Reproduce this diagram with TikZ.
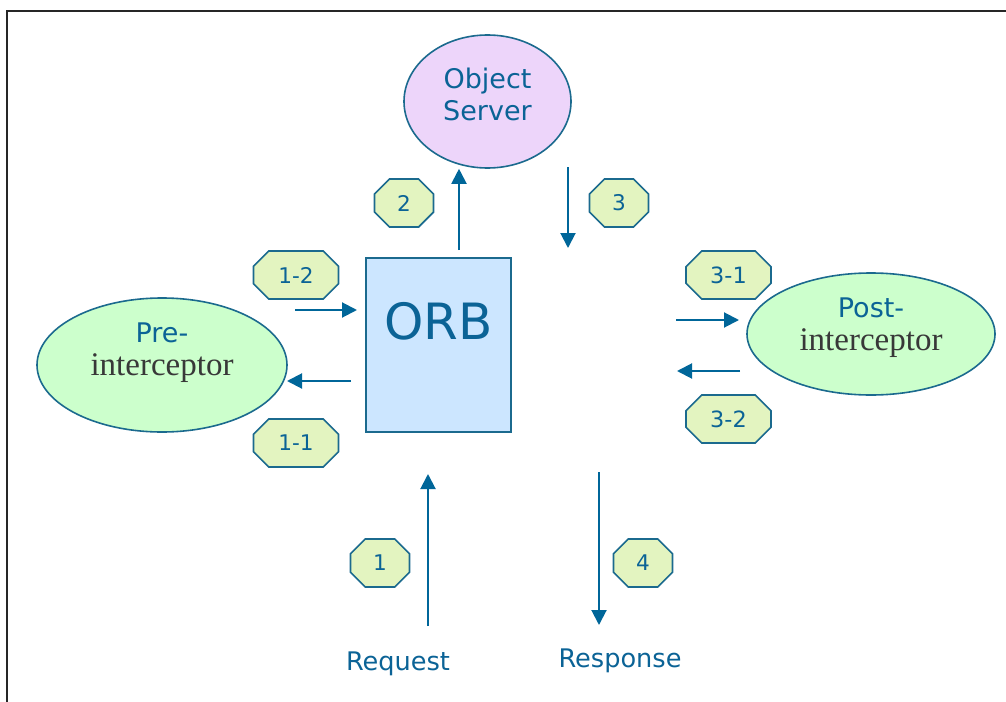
\documentclass[tikz,border=0pt]{standalone}
\usepackage{fontspec}
\setmainfont{DejaVu Sans}
\newfontfamily\interfont{Liberation Serif}
\usepackage{xcolor}
\usepackage{tikz}
\usetikzlibrary{
    positioning,
    arrows.meta,
    shapes.geometric,
    shapes.misc
}
\definecolor{flowblue}{HTML}{006699}
\definecolor{edgeblue}{HTML}{1B6A8E}
\definecolor{textblue}{HTML}{0B6396}
\definecolor{tagfill}{HTML}{E3F4C0}
\definecolor{orbfill}{HTML}{CCE6FF}
\definecolor{interfill}{HTML}{CCFFCC}
\definecolor{serverfill}{HTML}{EDD5FA}
\tikzset{
    step_tag/.style={
        chamfered rectangle,
        chamfered rectangle xsep=6.5pt,
        draw=edgeblue, line width=0.8pt,
        fill=tagfill,
        minimum width=29.5pt, minimum height=24pt,
        inner sep=0pt,
        text=textblue,
        font=\fontsize{10.8}{12}\selectfont
    },
    wide_tag/.style={
        step_tag, minimum width=42.5pt
    },
    flow_arrow/.style={
        -{Triangle[length=7.5pt, width=7.5pt]}, line width=1pt, draw=flowblue
    },
    frame_line/.style={
        draw=black!85, line width=1.2pt
    }
}

\begin{document}
\begin{tikzpicture}[
    x=0.5pt, y=-0.5pt,
    orb_box/.style={rectangle, draw=edgeblue, line width=0.7pt, fill=orbfill, minimum width=72.5pt, minimum height=87pt, inner sep=0pt},
    orb_text/.style={text=textblue, font=\fontsize{25}{30}\selectfont},
    server_node/.style={ellipse, draw=edgeblue, line width=0.8pt, fill=serverfill, minimum width=83.5pt, minimum height=66.5pt, inner sep=0pt},
    inter_node/.style={ellipse, draw=edgeblue, line width=0.8pt, fill=interfill, inner sep=0pt},
    node_text/.style={text=textblue, align=center, font=\fontsize{13.5}{16}\selectfont},
    inter_text/.style={text=textblue, align=center, font=\fontsize{13.5}{14}\selectfont},
    io_label/.style={text=textblue, font=\fontsize{12.8}{15}\selectfont}
]
    \useasboundingbox (0,0) rectangle (1006,701);

    % --- FRAME ---
    \draw[frame_line] (7,712) -- (7,11) -- (1016,11);

    % --- MAIN BLOCKS ---
    \node[orb_box, label={[orb_text, yshift=12pt]center:ORB}] (orb) at (438.5,345) {};
    \node[server_node, label={[node_text, yshift=3.75pt]center:{Object\\Server}}] (server) at (487.5,101.5) {};
    \node[inter_node, minimum width=125pt, minimum height=67pt,
          label={[inter_text, yshift=6pt]center:{Pre-\\[2.5pt]{\interfont\fontsize{16.5}{14}\selectfont\color{black!78}interceptor}}}] (pre) at (162,365) {};
    \node[inter_node, minimum width=124pt, minimum height=61pt,
          label={[inter_text, yshift=3.25pt]center:{Post-\\[2.5pt]{\interfont\fontsize{16.5}{14}\selectfont\color{black!78}interceptor}}}] (post) at (871,334) {};

    % --- REQUEST / RESPONSE ---
    \node[io_label, anchor=base] (request) at (398,670) {Request};
    \node[io_label, anchor=base] (response) at (620,667) {Response};

    % --- STEP TAGS ---
    \node[step_tag] (tag1) at (380,563) {1};
    \node[wide_tag] (tag11) at (296,443) {1-1};
    \node[wide_tag] (tag12) at (296,275) {1-2};
    \node[step_tag] (tag2) at (404,203) {2};
    \node[step_tag] (tag3) at (619,203) {3};
    \node[wide_tag, font=\fontsize{11.2}{12}\selectfont] (tag31) at (728.5,275) {3-1};
    \node[wide_tag, font=\fontsize{11.2}{12}\selectfont] (tag32) at (728.5,419) {3-2};
    \node[step_tag] (tag4) at (643,563) {4};

    % --- ARROW ENDS ---
    \coordinate (req_from) at (428,626);
    \coordinate (req_to) at (428,474);
    \coordinate (pre_out_from) at (351,381);
    \coordinate (pre_out_to) at (287,381);
    \coordinate (pre_in_from) at (295,310);
    \coordinate (pre_in_to) at (357,310);
    \coordinate (srv_up_from) at (459,250);
    \coordinate (srv_down_from) at (568,167);
    \coordinate (srv_down_to) at (568,248);
    \coordinate (post_in_from) at (676,320);
    \coordinate (post_in_to) at (739,320);
    \coordinate (post_out_from) at (740,371);
    \coordinate (post_out_to) at (677,371);
    \coordinate (resp_from) at (599,472);
    \coordinate (resp_to) at (599,625);

    % --- ARROWS ---
    \draw[flow_arrow] (req_from) -- (req_to);
    \draw[flow_arrow] (pre_out_from) -- (pre_out_to);
    \draw[flow_arrow] (pre_in_from) -- (pre_in_to);
    \draw[flow_arrow] (srv_up_from) -- (srv_up_from |- server.south);
    \draw[flow_arrow] (srv_down_from) -- (srv_down_to);
    \draw[flow_arrow] (post_in_from) -- (post_in_to);
    \draw[flow_arrow] (post_out_from) -- (post_out_to);
    \draw[flow_arrow] (resp_from) -- (resp_to);

\end{tikzpicture}
\end{document}
